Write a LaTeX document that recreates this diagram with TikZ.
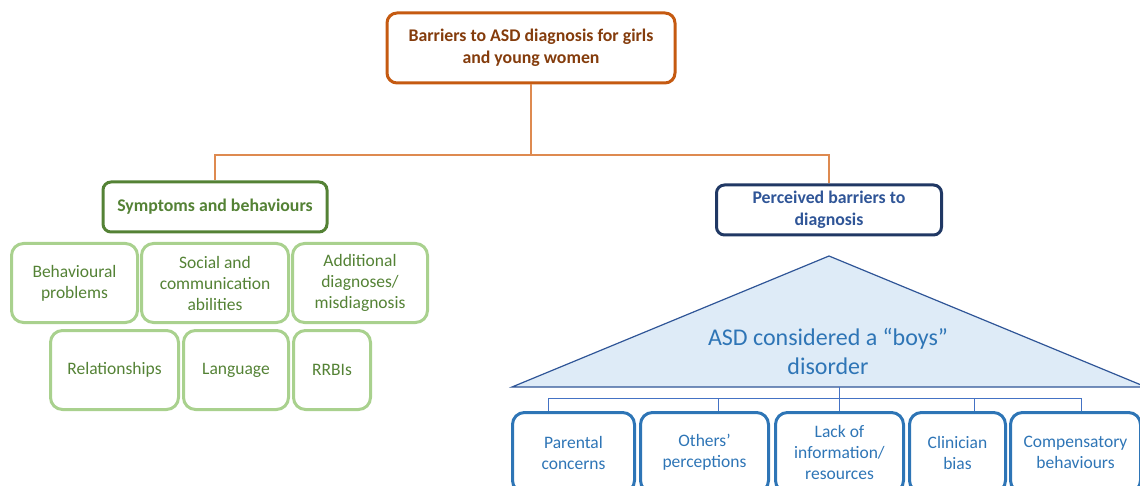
\documentclass[tikz,border=0pt]{standalone}
\usepackage{fontspec}
\setmainfont{Carlito}
\usetikzlibrary{positioning}

\definecolor{orgline}{HTML}{C55A11}
\definecolor{orglink}{HTML}{DE8A50}
\definecolor{orgtext}{HTML}{843C0C}
\definecolor{grndark}{HTML}{548235}
\definecolor{grnlight}{HTML}{A9D18E}
\definecolor{blunavy}{HTML}{203864}
\definecolor{blutext}{HTML}{2F5597}
\definecolor{blumid}{HTML}{2E75B6}
\definecolor{blufill}{HTML}{DEEBF7}
\definecolor{blulink}{HTML}{4472C4}

\tikzset{
  topbox/.style={draw=orgline, line width=1.5pt, rounded corners=5pt, text=orgtext,
    font=\bfseries\fontsize{8.9}{11.25}\selectfont, minimum width=144pt, minimum height=35pt},
  symbox/.style={draw=grndark, line width=1.5pt, rounded corners=4pt, text=grndark,
    font=\bfseries\fontsize{8.9}{11}\selectfont, minimum width=112pt, minimum height=25pt},
  perbox/.style={draw=blunavy, line width=1.5pt, rounded corners=4pt, text=blutext,
    font=\bfseries\fontsize{8.9}{11}\selectfont, minimum width=112.5pt, minimum height=25pt},
  leafg/.style={draw=grnlight, line width=1.5pt, rounded corners=6pt, text=grndark,
    font=\fontsize{8.75}{10.5}\selectfont, minimum height=39.5pt},
  leafb/.style={draw=blumid, line width=1.5pt, rounded corners=6pt, text=blumid,
    font=\fontsize{8.75}{10.5}\selectfont, minimum height=40pt},
  orglk/.style={draw=orglink, line width=0.7pt},
  blulk/.style={draw=blulink, line width=0.5pt}
}

\begin{document}
\begin{tikzpicture}[x=0.5pt,y=-0.5pt,every node/.style={align=center,inner sep=0pt}]
	\useasboundingbox (0,0) rectangle (1140,486);
	\clip (0,0) rectangle (1140,486);
	% top of the tree
	\node (top) [topbox] at (531,48) {Barriers to ASD diagnosis for girls\\and young women};
	\node (sym) [symbox] at (215,207) {Symptoms and behaviours};
	\node (per) [perbox] at (829,210) {Perceived barriers to\\diagnosis};
	\coordinate (obus) at (531,155);
	% symptoms
	\node (beh) [leafg, minimum width=63pt, anchor=north west] at (10,242) {Behavioural\\problems};
	\node (soc) [leafg, minimum width=73.5pt, right=0.5pt of beh] {Social and\\communication\\abilities};
	\node (add) [leafg, minimum width=67.5pt, right=0.5pt of soc] {Additional\\diagnoses/\\misdiagnosis};
	\node (rel) [leafg, minimum width=64pt, anchor=north west] at (49,329) {Relationships};
	\node (lan) [leafg, minimum width=52.5pt, right=1pt of rel] {Language};
	\node (rrb) [leafg, minimum width=38.5pt, right=1pt of lan] {RRBIs};
	% perceived barriers
	\coordinate (tapex) at (829,256);
	\coordinate (tleft) at (512,387);
	\coordinate (tright) at (1146,387);
	\draw[draw=blutext, fill=blufill, line width=0.6pt] (tapex) -- (tright) -- (tleft) -- cycle;
	\node (asd) [text=blumid, font=\fontsize{12}{14.5}\selectfont] at (828,351) {ASD considered a “boys”\\disorder};
	\coordinate (tbase) at (839,387);
	\coordinate (bbus) at (839,398);
	\node (par) [leafb, minimum width=61pt, anchor=north west] at (511,411) {Parental\\concerns};
	\node (oth) [leafb, minimum width=64pt, right=1.5pt of par] {Others’\\perceptions};
	\node (lac) [leafb, minimum width=64pt, right=2pt of oth] {Lack of\\information/\\resources};
	\node (cli) [leafb, minimum width=48pt, right=1.5pt of lac] {Clinician\\bias};
	\node (com) [leafb, minimum width=65pt, right=1pt of cli] {Compensatory\\behaviours};
	% links
	\draw[orglk] (top) -- (obus);
	\draw[orglk] (sym) |- (obus);
	\draw[orglk] (per) |- (obus);
	\draw[blulk] (tbase) -- (tbase |- lac.north);
	\draw[blulk] (bbus) -| ([xshift=-12.5pt]par.north);
	\draw[blulk] (bbus) -| ([xshift=7pt]oth.north);
	\draw[blulk] (bbus) -| ([xshift=8.5pt]cli.north);
	\draw[blulk] (bbus) -| ([xshift=3pt]com.north);
\end{tikzpicture}
\end{document}
